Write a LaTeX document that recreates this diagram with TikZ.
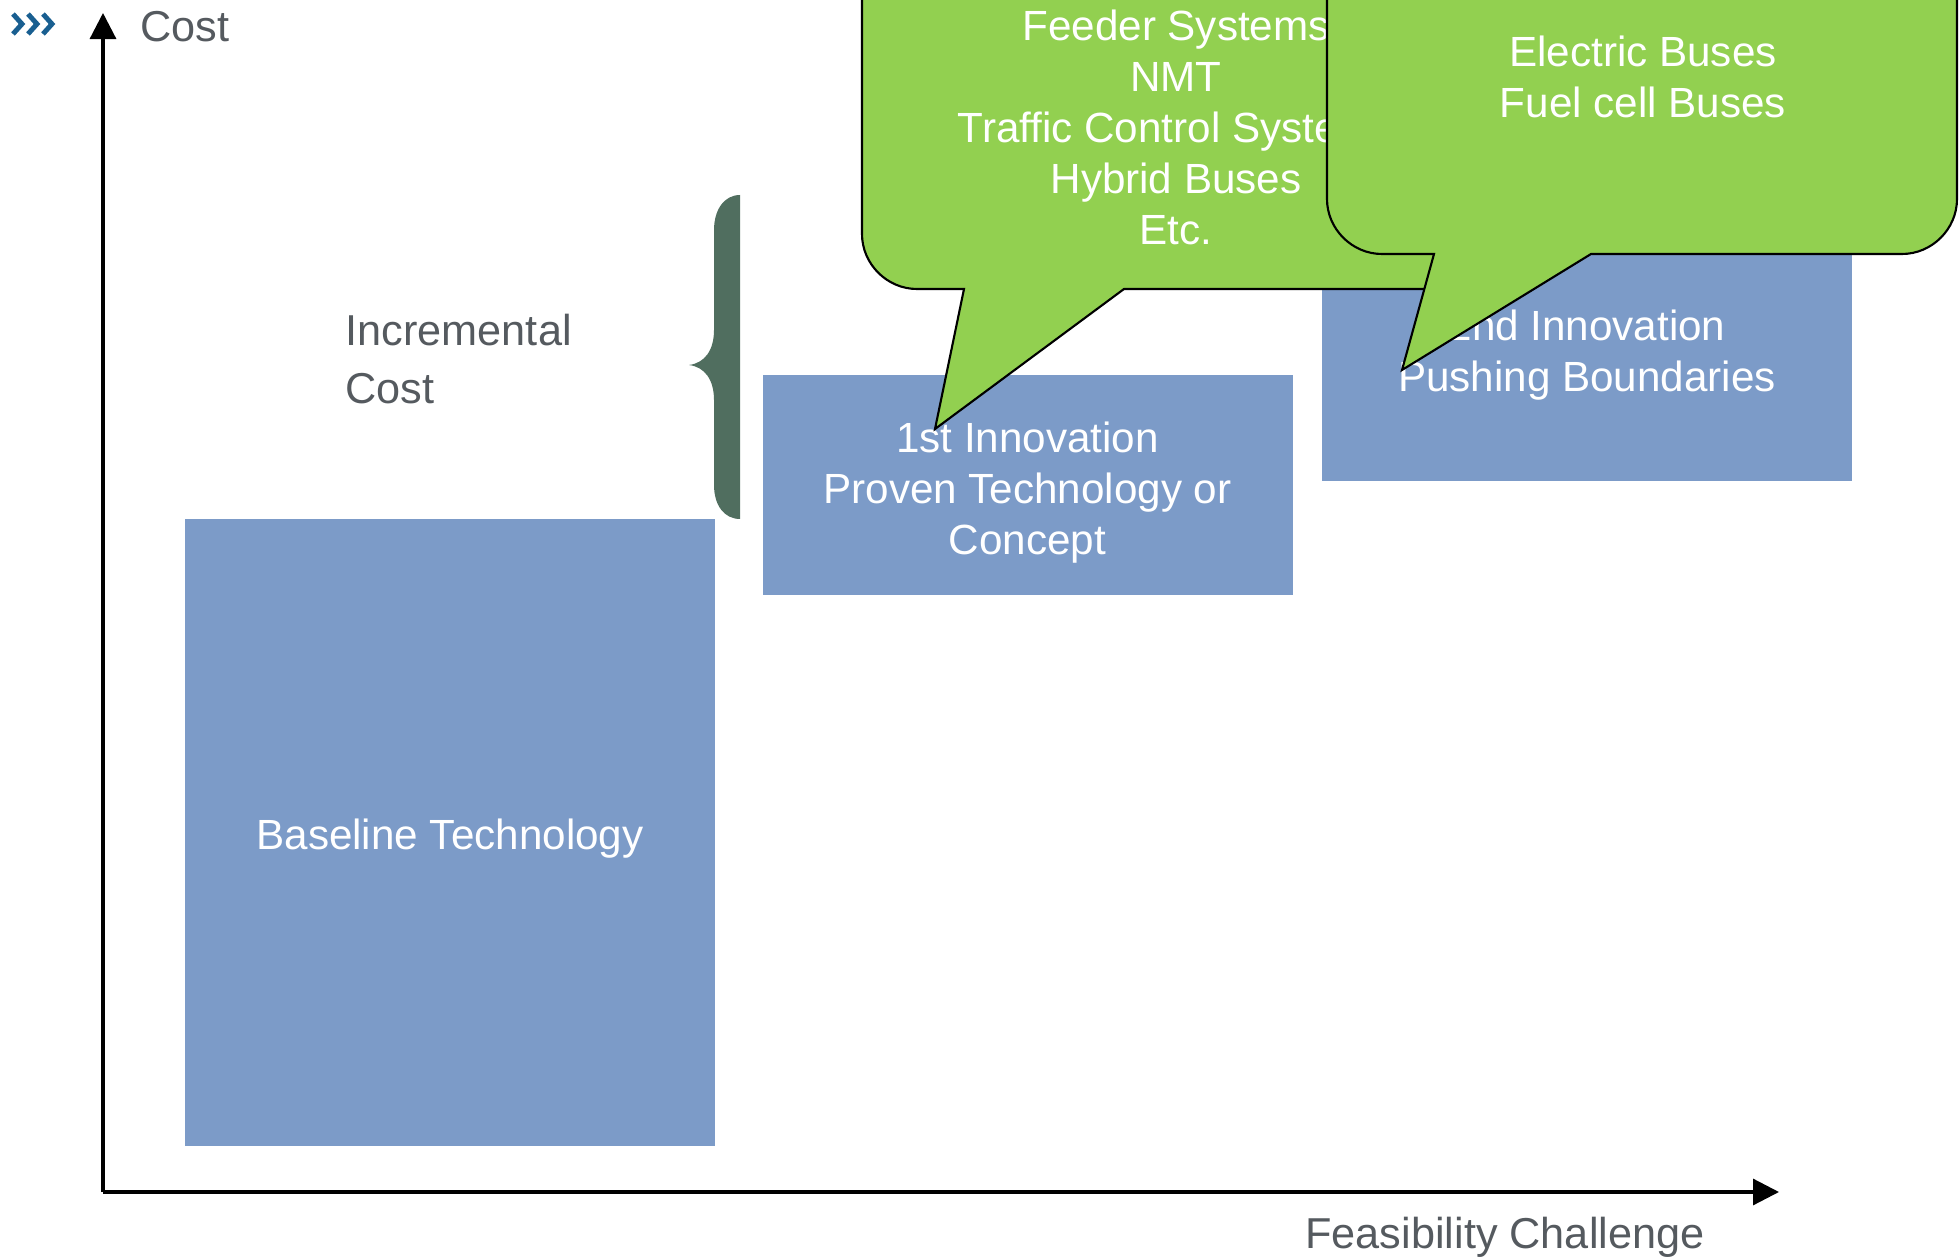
\documentclass[tikz,border=0pt]{standalone}
\usepackage{fontspec}
\setmainfont{Liberation Sans}
\usetikzlibrary{arrows.meta}

\definecolor{boxblue}{RGB}{124,155,200}
\definecolor{bubblegreen}{RGB}{146,208,80}
\definecolor{bracegreen}{RGB}{80,110,95}
\definecolor{labelgray}{RGB}{85,90,95}
\definecolor{chevblue}{RGB}{25,95,145}

\tikzset{
    boxtext/.style={text=white,inner sep=0pt,align=center,font=\fontsize{12}{14.5}\selectfont},
    bubble/.style={draw=black,line width=0.6pt,fill=bubblegreen},
    bubbletext/.style={text=white,align=center,inner sep=0pt,font=\fontsize{12}{14.5}\selectfont},
    axislabel/.style={text=labelgray,inner sep=0pt,font=\fontsize{12.3}{16}\selectfont},
    axis/.style={line width=0.9pt,-{Triangle[length=0.26cm,width=0.26cm]}}
}

\begin{document}
\begin{tikzpicture}[x=0.01cm,y=-0.01cm]
        \useasboundingbox (0,0) rectangle (1960,1258);
        \clip (0,0) rectangle (1960,1258);
        % Chevrons top left
        \foreach \i in {0,1,2} {
            \draw[chevblue,line width=1.4pt] (13+15*\i,14) -- (22+15*\i,24) -- (13+15*\i,34);
        }
        % Axes
        \coordinate (origin) at (103,1192);
        \coordinate (ytip) at (103,13);
        \coordinate (xtip) at (1779,1192);
        \draw[axis] (origin) -- (ytip);
        \draw[axis] (origin) -- (xtip);
        \node[axislabel,anchor=west] (cost) at (140,27) {Cost};
        \node[axislabel] (feas) at (1505,1237) {Feasibility Challenge};
        % Technology boxes
        \fill[boxblue] (185,519) rectangle (715,1146);
        \fill[boxblue] (762.5,375) rectangle (1292.5,595);
        \fill[boxblue] (1322,220) rectangle (1852,481);
        \node[boxtext] (base) at (450,839) {Baseline Technology};
        \node[boxtext] (first) at (1027.5,492.5) {1st Innovation\\Proven Technology or\\Concept};
        \node[boxtext] (second) at (1587,355.5) {2nd Innovation\\Pushing Boundaries};
        % Incremental cost brace
        \fill[bracegreen] (740,195) -- (740,519) .. controls (724,519) and (714,505) .. (714,485)
            -- (714,400) .. controls (714,380) and (705,367) .. (689,365)
            .. controls (705,363) and (714,350) .. (714,330)
            -- (714,230) .. controls (714,210) and (724,195) .. (740,195) -- cycle;
        \node[axislabel,anchor=west,align=left,font=\fontsize{12.3}{16.3}\selectfont] (incr) at (345,359) {Incremental\\Cost};
        % Callouts
        \draw[bubble] (862,-80) -- (862,234) .. controls (862,264) and (887,289) .. (917,289)
            -- (964,289) -- (935,429) -- (1124,289) -- (1435,289)
            .. controls (1465,289) and (1490,264) .. (1490,234) -- (1490,-80) -- cycle;
        \node[bubbletext] (firstlist) at (1176,127) {Feeder Systems\\NMT\\Traffic Control Systems\\Hybrid Buses\\Etc.};
        \draw[bubble] (1327,-80) -- (1327,199) .. controls (1327,229) and (1352,254) .. (1382,254)
            -- (1434,254) -- (1402,370) -- (1591,254) -- (1902,254)
            .. controls (1932,254) and (1957,229) .. (1957,199) -- (1957,-80) -- cycle;
        \node[bubbletext] (secondlist) at (1643,77) {Electric Buses\\Fuel cell Buses};
\end{tikzpicture}
\end{document}
